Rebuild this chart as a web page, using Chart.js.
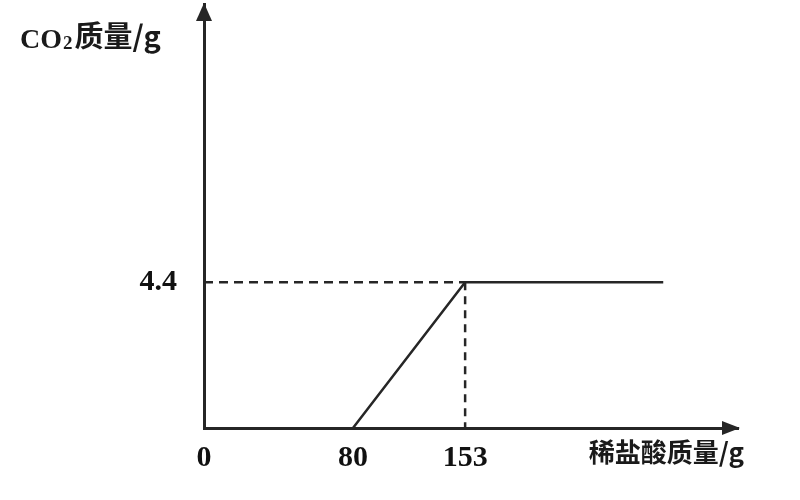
<!DOCTYPE html>
<html>
<head>
<meta charset="utf-8">
<script src="https://cdn.jsdelivr.net/npm/chart.js@4/dist/chart.umd.min.js"></script>
<style>
  html, body { margin: 0; padding: 0; background: #fff; }
  #wrap { width: 800px; height: 500px; position: relative; }
</style>
</head>
<body>
<div id="wrap"><canvas id="grafico"></canvas></div>
<script>
// values
const massAcid = [80, 153, 260];     // x values of the curve
const massCO2 = [0, 4.4, 4.4];       // y values of the curve
const xTickValues = [0, 80, 153];
const yTickValues = [4.4];
const xAxisLabel = "稀盐酸质量/g";
const yAxisLabel = ["CO", "2", "质量/g"];

const ink = "#262626";
const numFont = { family: "'Liberation Serif', 'DejaVu Serif', serif", size: 30, weight: "bold" };
const cjkFont = "'Noto Sans CJK SC', 'Liberation Serif', sans-serif";

// schematic axis: spacing of the ticks is not proportional in the picture
class PiecewiseScale extends Chart.LinearScale {
  getPixelForValue(value) {
    if (value === null) return NaN;
    const k = this.options.knots;
    let dec = 0;
    for (let i = 1; i < k.length; i++) {
      if (value <= k[i][0] || i === k.length - 1) {
        const a = k[i - 1], b = k[i];
        dec = a[1] + (value - a[0]) / (b[0] - a[0]) * (b[1] - a[1]);
        break;
      }
    }
    return this.getPixelForDecimal(dec);
  }
  getValueForPixel(pixel) {
    const dec = this.getDecimalForPixel(pixel);
    const k = this.options.knots;
    for (let i = 1; i < k.length; i++) {
      if (dec <= k[i][1] || i === k.length - 1) {
        const a = k[i - 1], b = k[i];
        return a[0] + (dec - a[1]) / (b[1] - a[1]) * (b[0] - a[0]);
      }
    }
    return 0;
  }
}
PiecewiseScale.id = "piecewise";
PiecewiseScale.defaults = Chart.LinearScale.defaults;
Chart.register(PiecewiseScale);

const peak = { x: massAcid[1], y: massCO2[1] };

const axisDecor = {
  id: "axisDecor",
  afterDraw(chart) {
    const c = chart.ctx;
    const a = chart.chartArea;
    c.save();
    c.fillStyle = ink;
    // arrow on y axis
    c.beginPath();
    c.moveTo(a.left, a.top - 1);
    c.lineTo(a.left - 8, a.top + 17);
    c.lineTo(a.left + 8, a.top + 17);
    c.closePath();
    c.fill();
    // arrow on x axis
    c.beginPath();
    c.moveTo(a.right + 2, a.bottom);
    c.lineTo(a.right - 16, a.bottom - 7);
    c.lineTo(a.right - 16, a.bottom + 7);
    c.closePath();
    c.fill();

    // y axis label
    c.fillStyle = "#1a1a1a";
    c.textBaseline = "alphabetic";
    c.font = "bold 28px 'Liberation Serif', serif";
    c.fillText(yAxisLabel[0], 20, 48);
    let x = 20 + c.measureText(yAxisLabel[0]).width;
    c.font = "bold 19px 'Liberation Serif', serif";
    c.fillText(yAxisLabel[1], x + 1, 49);
    x += c.measureText(yAxisLabel[1]).width + 3;
    c.font = "bold 29px " + cjkFont;
    c.fillText(yAxisLabel[2], x, 47);

    // x axis label
    c.textAlign = "right";
    c.font = "bold 26px " + cjkFont;
    c.fillText(xAxisLabel, 744, 462);
    c.restore();
  }
};

new Chart(document.getElementById("grafico"), {
  type: "line",
  data: {
    datasets: [
      {
        data: massAcid.map((v, i) => ({ x: v, y: massCO2[i] })),
        borderColor: ink,
        borderWidth: 2.5,
        pointRadius: 0,
        tension: 0
      },
      {
        data: [{ x: 0, y: peak.y }, peak],
        borderColor: ink,
        borderWidth: 2.5,
        borderDash: [9, 6],
        pointRadius: 0
      },
      {
        data: [peak, { x: peak.x, y: 0 }],
        borderColor: ink,
        borderWidth: 2.5,
        borderDash: [8, 6],
        pointRadius: 0
      }
    ]
  },
  options: {
    responsive: true,
    maintainAspectRatio: false,
    animation: false,
    events: [],
    layout: { padding: { top: 4, right: 62, left: 0, bottom: 0 } },
    plugins: { legend: { display: false }, tooltip: { enabled: false } },
    scales: {
      x: {
        type: "piecewise",
        min: 0,
        max: 300,
        knots: [[0, 0], [80, 0.279], [153, 0.489], [260, 0.86], [300, 1]],
        afterBuildTicks(s) { s.ticks = xTickValues.map(v => ({ value: v })); },
        afterFit(s) { s.height = 72; s.paddingLeft = 0; s.paddingRight = 0; },
        grid: { display: false, drawTicks: false },
        border: { display: true, color: ink, width: 3 },
        ticks: {
          color: "#111",
          font: numFont,
          padding: 12,
          maxRotation: 0,
          autoSkip: false,
          callback: v => String(v)
        }
      },
      y: {
        min: 0,
        max: 12.8,
        afterBuildTicks(s) { s.ticks = yTickValues.map(v => ({ value: v })); },
        afterFit(s) { s.width = 204; s.paddingTop = 0; s.paddingBottom = 0; },
        grid: { display: false, drawTicks: false },
        border: { display: true, color: ink, width: 3 },
        ticks: {
          color: "#111",
          font: numFont,
          padding: 27,
          autoSkip: false,
          callback: v => String(v)
        }
      }
    }
  },
  plugins: [axisDecor]
});
</script>
</body>
</html>
